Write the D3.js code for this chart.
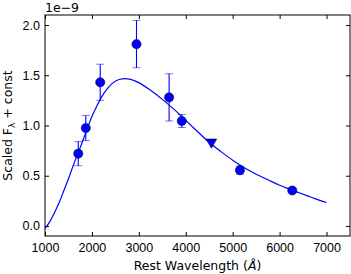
<!DOCTYPE html>
<html>
<head>
<meta charset="utf-8">
<script src="https://cdn.jsdelivr.net/npm/d3@7"></script>
<style>
  body { margin: 0; background: #fff; }
  svg { font-family: "DejaVu Sans", sans-serif; }
  .tick text { font-size: 12.5px; fill: #000; }
  .tick line { stroke: #000; }
</style>
</head>
<body>
<div id="chart"></div>
<script>
// observed photometry (units of 1e-9)
const obsWave = [1709, 1870, 2177, 2950, 3645, 3915, 5155, 6270];
const obsFlux = [0.72, 0.975, 1.43, 1.81, 1.28, 1.045, 0.555, 0.353];
const obsErr = [0.12, 0.125, 0.18, 0.235, 0.235, 0.065, 0.04, 0.02];

// upper limit point
const limWave = [4547];
const limFlux = [0.835];

// model curve
const modelWave = [1000, 1100, 1200, 1300, 1400, 1500, 1600, 1700, 1800, 1900,
    2000, 2100, 2200, 2300, 2400, 2500, 2600, 2700, 2800, 2900, 3000,
    3250, 3500, 3750, 4000, 4250, 4500, 4750, 5000, 5250, 5500, 5750,
    6000, 6250, 6500, 6750, 7000];
const modelFlux = [-0.025, 0.04, 0.13, 0.23, 0.35, 0.47, 0.6, 0.72, 0.84, 0.97,
    1.09, 1.19, 1.28, 1.35, 1.405, 1.44, 1.46, 1.467, 1.462, 1.447, 1.427,
    1.35, 1.26, 1.16, 1.05, 0.94, 0.83, 0.74, 0.655, 0.58, 0.515, 0.46,
    0.405, 0.36, 0.315, 0.272, 0.233];

const xTicks = [1000, 2000, 3000, 4000, 5000, 6000, 7000];
const yTicks = [0.0, 0.5, 1.0, 1.5, 2.0];

const width = 351, height = 274;
const margin = { top: 15, right: 1, bottom: 38, left: 45 };

const svg = d3.select("#chart").append("svg")
    .attr("width", width).attr("height", height);

const x = d3.scaleLinear()
    .domain([1000, 7500])
    .range([margin.left, width - margin.right]);

const y = d3.scaleLinear()
    .domain([-0.1, 2.1])
    .range([height - margin.bottom, margin.top]);

const blue = "#0000ff";

// axes, ticks pointing inward (classic matplotlib)
svg.append("g")
    .attr("transform", `translate(0,${y.range()[0]})`)
    .call(d3.axisBottom(x).tickValues(xTicks).tickFormat(d3.format("d"))
        .tickSize(-4).tickSizeOuter(0).tickPadding(7))
    .call(g => g.select(".domain").remove());

svg.append("g")
    .attr("transform", `translate(0,${y.range()[1]})`)
    .call(d3.axisTop(x).tickValues(xTicks).tickFormat("")
        .tickSize(-4).tickSizeOuter(0))
    .call(g => g.select(".domain").remove());

svg.append("g")
    .attr("transform", `translate(${x.range()[0]},0)`)
    .call(d3.axisLeft(y).tickValues(yTicks).tickFormat(d3.format(".1f"))
        .tickSize(-4).tickSizeOuter(0).tickPadding(5))
    .call(g => g.select(".domain").remove());

svg.append("g")
    .attr("transform", `translate(${x.range()[1]},0)`)
    .call(d3.axisRight(y).tickValues(yTicks).tickFormat("")
        .tickSize(-4).tickSizeOuter(0))
    .call(g => g.select(".domain").remove());

// model curve
const line = d3.line()
    .x((d, i) => x(modelWave[i]))
    .y(d => y(d))
    .curve(d3.curveCatmullRom);

svg.append("path")
    .datum(modelFlux)
    .attr("d", line)
    .attr("fill", "none")
    .attr("stroke", blue)
    .attr("stroke-width", 1.2);

// error bars
const pts = obsWave.map((w, i) => ({ w, f: obsFlux[i], e: obsErr[i] }));

const eb = svg.append("g").selectAll("g")
    .data(pts)
    .enter().append("g");

eb.append("line")
    .attr("x1", d => x(d.w)).attr("x2", d => x(d.w))
    .attr("y1", d => y(d.f - d.e)).attr("y2", d => y(d.f + d.e))
    .attr("stroke", blue).attr("stroke-width", 1.1);

[-1, 1].forEach(s => {
    eb.append("line")
        .attr("x1", d => x(d.w) - 4).attr("x2", d => x(d.w) + 4)
        .attr("y1", d => y(d.f + s * d.e)).attr("y2", d => y(d.f + s * d.e))
        .attr("stroke", blue).attr("stroke-opacity", 0.55).attr("stroke-width", 1);
});

svg.append("g").selectAll("circle")
    .data(pts)
    .enter().append("circle")
    .attr("cx", d => x(d.w))
    .attr("cy", d => y(d.f))
    .attr("r", 4.6)
    .attr("fill", blue)
    .attr("stroke", "#000")
    .attr("stroke-width", 0.5);

// upper limit triangle
svg.append("g").selectAll("path")
    .data(limWave)
    .enter().append("path")
    .attr("d", d3.symbol(d3.symbolTriangle, 48))
    .attr("transform", (d, i) => `translate(${x(d)},${y(limFlux[i])}) rotate(180)`)
    .attr("fill", blue)
    .attr("stroke", "#000")
    .attr("stroke-width", 0.6);

// frame
svg.append("rect")
    .attr("x", x.range()[0]).attr("y", y.range()[1])
    .attr("width", x.range()[1] - x.range()[0])
    .attr("height", y.range()[0] - y.range()[1])
    .attr("fill", "none")
    .attr("stroke", "#000")
    .attr("stroke-width", 1);

// offset text
svg.append("text")
    .attr("x", 45).attr("y", 11.5)
    .attr("font-size", 12.5)
    .text("1e\u22129");

// axis labels
svg.append("text")
    .attr("x", (x.range()[0] + x.range()[1]) / 2)
    .attr("y", 270)
    .attr("text-anchor", "middle")
    .attr("font-size", 12.5)
    .call(t => {
        t.append("tspan").text("Rest Wavelength (");
        t.append("tspan").attr("font-style", "italic").text("\u00c5");
        t.append("tspan").text(")");
    });

svg.append("text")
    .attr("transform", `translate(12,${(y.range()[0] + y.range()[1]) / 2}) rotate(-90)`)
    .attr("text-anchor", "middle")
    .attr("font-size", 12.5)
    .call(t => {
        t.append("tspan").text("Scaled F");
        t.append("tspan").attr("font-size", 9).attr("dy", 3).text("\u03bb");
        t.append("tspan").attr("dy", -3).text(" + const");
    });
</script>
</body>
</html>
